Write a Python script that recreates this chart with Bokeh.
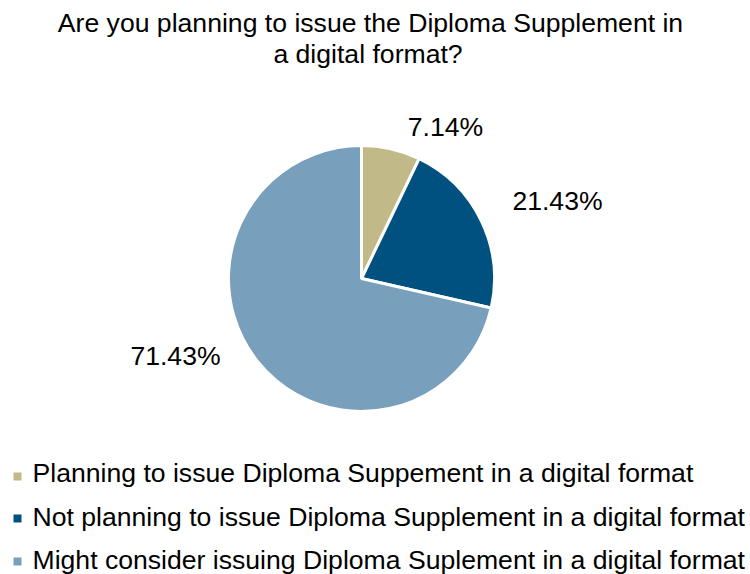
import numpy as np
from bokeh.plotting import figure
from bokeh.models import ColumnDataSource
from bokeh.core.properties import value
from bokeh.embed import file_html
from bokeh.resources import INLINE

# ---- data ----
title_lines = ["Are you planning to issue the Diploma Supplement in", "a digital format?"]
categories = [
    "Planning to issue Diploma Suppement in a digital format",
    "Not planning to issue Diploma Supplement in a digital format",
    "Might consider issuing Diploma Suplement in a digital format",
]
shares = [7.14, 21.43, 71.43]
colors = ["#C1BA88", "#00517F", "#789FBB"]

# ---- layout (pixels from top-left) ----
W, H = 750, 574
FONT = "Liberation Sans"
FS = "26.6px"
pie_cx, pie_cy, r = 361, 278, 133
label_pos = [(445, 126.5), (557, 200.5), (175, 355.5)]
title_pos = [(370, 22), (367.5, 53.5)]
legend_text_y = [472.5, 516, 559]
legend_box_y = [476, 518, 561]


def fy(y):
    return H - y


p = figure(width=W, height=H, x_range=(0, W), y_range=(0, H),
           output_backend="svg", toolbar_location=None, min_border=0)
p.axis.visible = False
p.grid.visible = False
p.outline_line_color = None
p.background_fill_color = "white"

frac = np.array(shares) / np.sum(shares)
cum = np.concatenate([[0], np.cumsum(frac)])
start = np.pi / 2 - cum[:-1] * 2 * np.pi
end = np.pi / 2 - cum[1:] * 2 * np.pi

src = ColumnDataSource(dict(start=start, end=end, color=colors,
                            x=[pie_cx] * 3, y=[fy(pie_cy)] * 3))
p.wedge(x="x", y="y", radius=r, start_angle="start", end_angle="end",
        direction="clock", fill_color="color", line_color="white",
        line_width=3, source=src)

lab = ColumnDataSource(dict(
    x=[x for x, y in label_pos],
    y=[fy(y) for x, y in label_pos],
    text=["%.2f%%" % s for s in shares]))
p.text(x="x", y="y", text="text", source=lab, text_font=value(FONT),
       text_font_size=FS, text_align="center", text_baseline="middle",
       text_color="#000000")

tsrc = ColumnDataSource(dict(x=[x for x, y in title_pos],
                             y=[fy(y) for x, y in title_pos], text=title_lines))
p.text(x="x", y="y", text="text", source=tsrc, text_font=value(FONT),
       text_font_size=FS, text_align="center", text_baseline="middle",
       text_color="#000000")

p.rect(x=[17] * 3, y=[fy(y) for y in legend_box_y], width=8, height=8,
       fill_color=colors, line_color=None)
lsrc = ColumnDataSource(dict(x=[32] * 3, y=[fy(y) for y in legend_text_y],
                             text=categories))
p.text(x="x", y="y", text="text", source=lsrc, text_font=value(FONT),
       text_font_size=FS, text_align="left", text_baseline="middle",
       text_color="#000000")

open("out.html", "w").write(file_html(p, INLINE))
